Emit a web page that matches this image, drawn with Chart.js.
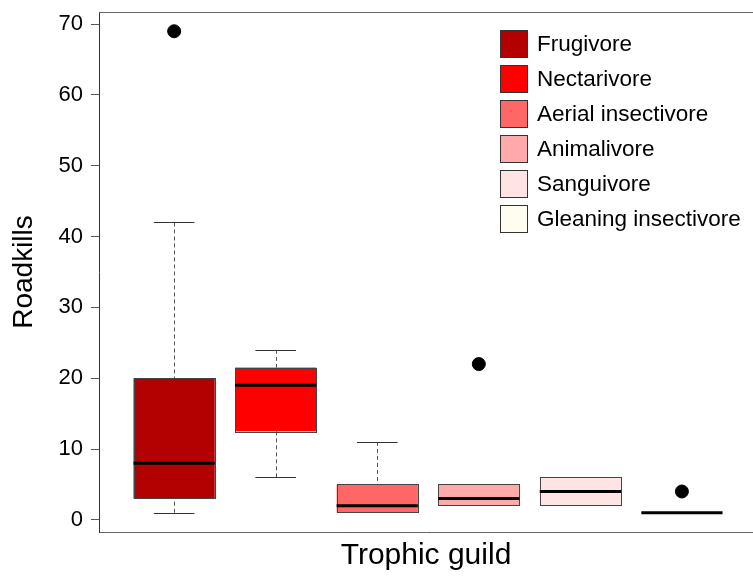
<!DOCTYPE html>
<html>
<head>
<meta charset="utf-8">
<script src="https://cdn.jsdelivr.net/npm/chart.js@4/dist/chart.umd.min.js"></script>
<style>
  html, body { margin: 0; padding: 0; background: #fff; overflow: hidden; }
  #wrap { width: 753px; height: 576px; }
</style>
</head>
<body>
<div id="wrap"><canvas id="ChartBox"></canvas></div>
<script>
const guilds = ['Frugivore', 'Nectarivore', 'Aerial insectivore', 'Animalivore', 'Sanguivore', 'Gleaning insectivore'];
const lowWhisker = [1, 6, 1, 2, 2, 1];
const q1 = [3, 12.5, 1, 2, 2, 1];
const median = [8, 19, 2, 3, 4, 1];
const q3 = [20, 21.5, 5, 5, 6, 1];
const highWhisker = [42, 24, 11, 5, 6, 1];
const outliers = [[69], [], [], [22], [], [4]];
const yTicks = [0, 10, 20, 30, 40, 50, 60, 70];
const colours = ['#B30000', '#FF0000', '#FF6666', '#FFAAAA', '#FFE4E4', '#FFFCF0'];

const FONT = "'Liberation Sans', Arial, sans-serif";

var outlierPoints = [];
outliers.forEach(function (list, i) {
  list.forEach(function (v) { outlierPoints.push({ x: i + 1, y: v }); });
});

// boxes, whiskers, frame top and legend
const boxPlugin = {
  id: 'boxes',
  beforeDatasetsDraw(chart) {
    const ctx = chart.ctx;
    const x = chart.scales.x, y = chart.scales.y;
    const area = chart.chartArea;
    ctx.save();
    ctx.beginPath();
    ctx.rect(area.left, area.top, area.right - area.left, area.bottom - area.top);
    ctx.clip();
    for (let i = 0; i < guilds.length; i++) {
      const cx = x.getPixelForValue(i + 1);
      const x0 = x.getPixelForValue(i + 1 - 0.4);
      const x1 = x.getPixelForValue(i + 1 + 0.4);
      const c0 = x.getPixelForValue(i + 1 - 0.2);
      const c1 = x.getPixelForValue(i + 1 + 0.2);
      const yq1 = y.getPixelForValue(q1[i]);
      const yq3 = y.getPixelForValue(q3[i]);
      const ylo = y.getPixelForValue(lowWhisker[i]);
      const yhi = y.getPixelForValue(highWhisker[i]);
      const ymed = y.getPixelForValue(median[i]);

      // whiskers
      ctx.lineWidth = 1;
      ctx.strokeStyle = '#555';
      ctx.setLineDash([4, 3]);
      ctx.beginPath();
      if (highWhisker[i] > q3[i]) { ctx.moveTo(Math.round(cx) + 0.5, yhi); ctx.lineTo(Math.round(cx) + 0.5, yq3); }
      if (lowWhisker[i] < q1[i]) { ctx.moveTo(Math.round(cx) + 0.5, ylo); ctx.lineTo(Math.round(cx) + 0.5, yq1); }
      ctx.stroke();
      ctx.setLineDash([]);
      ctx.strokeStyle = '#333';
      ctx.beginPath();
      if (highWhisker[i] > q3[i]) { ctx.moveTo(c0, Math.round(yhi) + 0.5); ctx.lineTo(c1, Math.round(yhi) + 0.5); }
      if (lowWhisker[i] < q1[i]) { ctx.moveTo(c0, Math.round(ylo) + 0.5); ctx.lineTo(c1, Math.round(ylo) + 0.5); }
      ctx.stroke();

      // box
      if (q3[i] > q1[i]) {
        ctx.fillStyle = colours[i];
        ctx.fillRect(x0, yq3, x1 - x0, yq1 - yq3);
        ctx.strokeStyle = '#444';
        ctx.lineWidth = 1;
        ctx.strokeRect(Math.round(x0) + 0.5, Math.round(yq3) + 0.5, Math.round(x1 - x0), Math.round(yq1 - yq3));
      }
      // median
      ctx.strokeStyle = '#000';
      ctx.lineWidth = 3;
      ctx.beginPath();
      ctx.moveTo(x0, ymed);
      ctx.lineTo(x1, ymed);
      ctx.stroke();
    }
    ctx.restore();
  },
  afterDraw(chart) {
    const ctx = chart.ctx;
    const area = chart.chartArea;
    ctx.save();
    // top frame line
    ctx.strokeStyle = '#666';
    ctx.lineWidth = 1;
    ctx.beginPath();
    ctx.moveTo(area.left, area.top + 0.5);
    ctx.lineTo(area.right, area.top + 0.5);
    ctx.stroke();

    // legend
    ctx.font = '22.5px ' + FONT;
    ctx.textBaseline = 'middle';
    ctx.textAlign = 'left';
    for (let i = 0; i < guilds.length; i++) {
      const ly = 30 + i * 35;
      ctx.fillStyle = colours[i];
      ctx.fillRect(500, ly, 28, 28);
      ctx.strokeStyle = '#333';
      ctx.strokeRect(500.5, ly + 0.5, 27, 27);
      ctx.fillStyle = '#000';
      ctx.fillText(guilds[i], 537, ly + 15);
    }
    ctx.restore();
  }
};

function noPad(s) {
  s.paddingTop = 0; s.paddingBottom = 0; s.paddingLeft = 0; s.paddingRight = 0;
}

const chart = new Chart(document.getElementById('ChartBox').getContext('2d'), {
  type: 'scatter',
  data: {
    datasets: [{
      label: 'Outliers',
      data: outlierPoints,
      backgroundColor: '#000',
      borderColor: '#000',
      pointRadius: 6.5,
      pointHoverRadius: 6.5
    }]
  },
  options: {
    responsive: true,
    maintainAspectRatio: false,
    animation: false,
    devicePixelRatio: 1,
    layout: { autoPadding: false, padding: { top: 12, right: 0, bottom: 0, left: 0 } },
    plugins: {
      legend: { display: false },
      tooltip: { enabled: false }
    },
    scales: {
      x: {
        type: 'linear',
        min: 0.26,
        max: 6.70,
        afterFit: function (s) { s.height = 44; noPad(s); },
        ticks: { display: false },
        grid: { display: false },
        border: { display: true, color: '#666', width: 1 },
        title: {
          display: true,
          text: 'Trophic guild',
          color: '#000',
          font: { family: FONT, size: 30 },
          padding: { top: 0, bottom: 2 }
        }
      },
      y: {
        min: -1.72,
        max: 71.72,
        afterFit: function (s) { s.width = 99; noPad(s); },
        afterBuildTicks: function (s) { s.ticks = yTicks.map(function (v) { return { value: v }; }); },
        ticks: {
          color: '#000',
          padding: 8,
          font: { family: FONT, size: 22 }
        },
        grid: {
          drawOnChartArea: false,
          drawTicks: true,
          tickLength: 8,
          tickColor: '#555'
        },
        border: { display: true, color: '#333', width: 1 },
        title: {
          display: true,
          text: 'Roadkills',
          color: '#000',
          font: { family: FONT, size: 28 },
          padding: { top: 7, bottom: 0 }
        }
      }
    }
  },
  plugins: [boxPlugin]
});
</script>
</body>
</html>
